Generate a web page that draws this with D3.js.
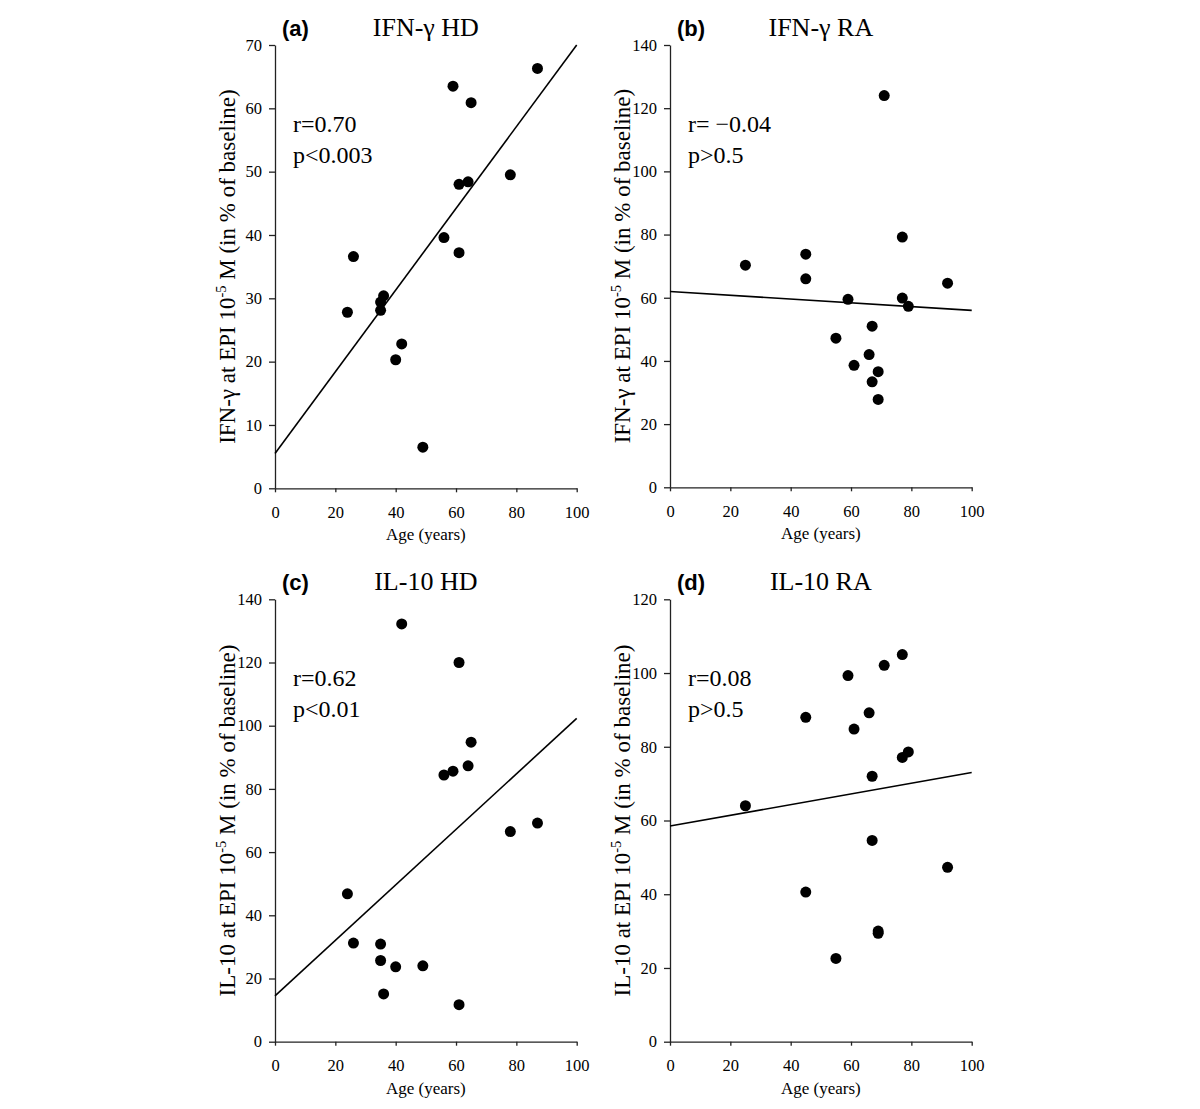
<!DOCTYPE html>
<html><head><meta charset="utf-8">
<script src="https://cdn.jsdelivr.net/npm/d3@7"></script>
<style>
body{margin:0;background:#fff;}
svg text{font-family:"Liberation Serif","Times New Roman",serif;fill:#000;}
</style></head>
<body>
<svg id="c" width="1200" height="1109"></svg>
<script>
// ---- data ----
const agesHD = [24,26,35,35,36,40,42,49,56,59,61,61,64,65,78,87];
const ifnHD  = [27.8,36.6,29.4,28.1,30.4,20.3,22.8,6.5,39.6,63.5,48.0,37.2,48.4,60.9,49.5,66.3];
const il10HD = [46.8,31.2,30.9,25.7,15.1,23.7,132.2,24.0,84.4,85.6,120.0,11.7,87.3,94.8,66.5,69.2];
const agesRA = [25,45,45,55,59,61,66,67,67,69,69,71,77,77,79,92];
const ifnRA  = [70.3,73.8,66.0,47.2,59.5,38.6,42.0,51.0,33.4,36.6,27.8,124.0,79.2,59.9,57.3,64.6];
const agesRA_il10 = [25,45,45,55,59,61,66,67,67,69,69,71,77,77,79,92];
const il10RA = [64.0,88.0,40.6,22.6,99.3,84.8,89.2,72.0,54.6,30.0,29.4,102.1,105.0,77.1,78.6,47.3];
const fitIfnHD  = [[0,5.5],[100,70]];
const fitIfnRA  = [[0,62],[100,56]];
const fitIl10HD = [[0,14.5],[100,102.3]];
const fitIl10RA = [[0,58.5],[100,73]];
const xTicks = [0,20,40,60,80,100];
const yTicksA = [0,10,20,30,40,50,60,70];
const yTicksB = [0,20,40,60,80,100,120,140];
const yTicksC = [0,20,40,60,80,100,120,140];
const yTicksD = [0,20,40,60,80,100,120];
const panelLetters = ["(a)","(b)","(c)","(d)"];
const panelTitles = ["IFN-γ HD","IFN-γ RA","IL-10 HD","IL-10 RA"];
const stat1 = ["r=0.70","r= \u22120.04","r=0.62","r=0.08"];
const stat2 = ["p<0.003","p>0.5","p<0.01","p>0.5"];
const yLabelPrefix = ["IFN-γ","IFN-γ","IL-10","IL-10"];

const panels = [
  {x0:275,x1:576.7,y0:488.3,y1:45,  ymax:70, yt:yTicksA, ages:agesHD, vals:ifnHD, fit:fitIfnHD},
  {x0:670,x1:971.7,y0:487.3,y1:45,  ymax:140,yt:yTicksB, ages:agesRA, vals:ifnRA, fit:fitIfnRA},
  {x0:275,x1:576.7,y0:1041.7,y1:599.3,ymax:140,yt:yTicksC, ages:agesHD, vals:il10HD, fit:fitIl10HD},
  {x0:670,x1:971.7,y0:1041.7,y1:599.3,ymax:120,yt:yTicksD, ages:agesRA_il10, vals:il10RA, fit:fitIl10RA}
];

const svg = d3.select("#c");

panels.forEach((p,i)=>{
  const x = d3.scaleLinear().domain([0,100]).range([p.x0,p.x1]);
  const y = d3.scaleLinear().domain([0,p.ymax]).range([p.y0,p.y1]);
  const g = svg.append("g");

  const xa = g.append("g").attr("transform",`translate(0,${p.y0})`)
    .call(d3.axisBottom(x).tickValues(xTicks).tickSize(4).tickSizeOuter(0).tickPadding(14));
  const ya = g.append("g").attr("transform",`translate(${p.x0},0)`)
    .call(d3.axisLeft(y).tickValues(p.yt).tickSize(6).tickSizeOuter(0).tickPadding(7));
  [xa,ya].forEach(a=>{
    a.select(".domain").attr("stroke","#222").attr("stroke-width",1.3);
    a.selectAll(".tick line").attr("stroke","#222").attr("stroke-width",1.3);
    a.selectAll(".tick text").style("font-family","Liberation Serif").style("font-size","16.5px").attr("fill","#111");
  });

  // regression line
  g.append("line")
    .attr("x1",x(p.fit[0][0])).attr("y1",y(p.fit[0][1]))
    .attr("x2",x(p.fit[1][0])).attr("y2",y(p.fit[1][1]))
    .attr("stroke","#000").attr("stroke-width",1.6);

  // points
  g.selectAll("circle.pt").data(p.ages.map((a,k)=>[a,p.vals[k]])).enter()
    .append("circle").attr("class","pt")
    .attr("cx",d=>x(d[0])).attr("cy",d=>y(d[1])).attr("r",5.5).attr("fill","#000");

  // letter
  const topBase = p.y1 - 9;
  g.append("text").attr("x",p.x0+7).attr("y",topBase)
    .style("font-family","Liberation Sans, Arial, sans-serif").style("font-weight","bold").style("font-size","22px")
    .text(panelLetters[i]);
  g.append("text").attr("x",(p.x0+p.x1)/2).attr("y",topBase).attr("text-anchor","middle")
    .style("font-size","26px").text(panelTitles[i]);

  g.append("text").attr("x",p.x0+18).attr("y",p.y1+87).style("font-size","24px").text(stat1[i]);
  g.append("text").attr("x",p.x0+18).attr("y",p.y1+118).style("font-size","24px").text(stat2[i]);

  // x label
  g.append("text").attr("x",(p.x0+p.x1)/2).attr("y",p.y0+52).attr("text-anchor","middle")
    .style("font-size","17px").text("Age (years)");

  // y label
  const cy = (p.y0+p.y1)/2;
  const yl = g.append("text").attr("transform",`translate(${p.x0-40},${cy}) rotate(-90)`)
    .attr("text-anchor","middle").style("font-size","23px");
  yl.append("tspan").text(yLabelPrefix[i]+" at EPI 10");
  yl.append("tspan").attr("dy",-9).style("font-size","14.5px").text("-5");
  yl.append("tspan").attr("dy",9).text(" M (in % of baseline)");
});
</script>
</body></html>
